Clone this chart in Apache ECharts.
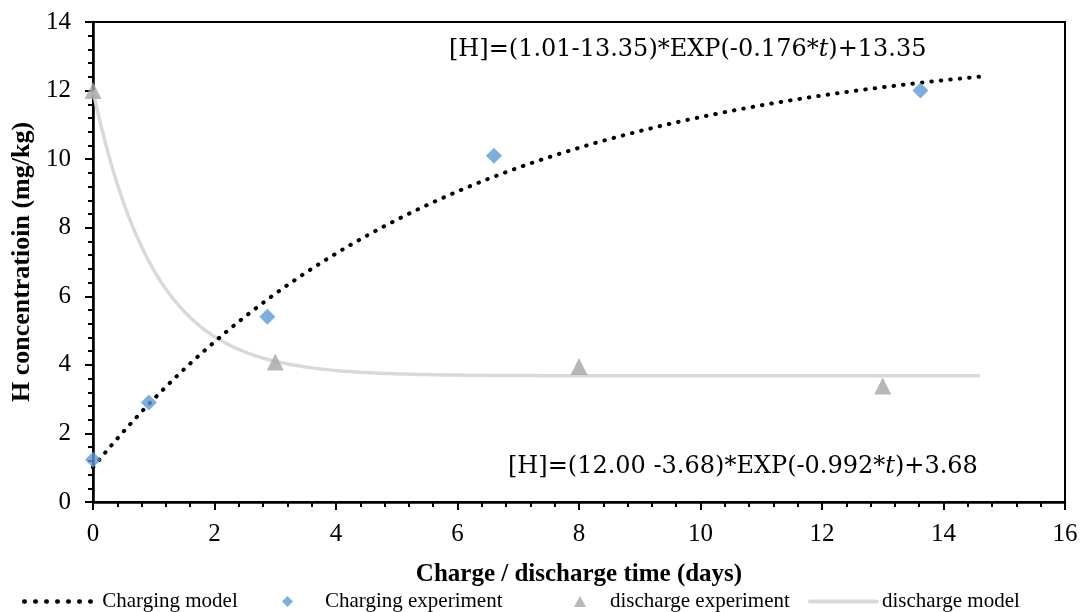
<!DOCTYPE html>
<html>
<head>
<meta charset="utf-8">
<script src="https://cdn.jsdelivr.net/npm/echarts@6/dist/echarts.min.js"></script>
<style>
  html, body { margin: 0; padding: 0; background: #fff; }
  #chart { width: 1084px; height: 612px; }
</style>
</head>
<body>
<div id="chart"></div>
<script>
// Measured hydrogen concentration (days, mg/kg)
const chargingDays = [0, 0.92, 2.87, 6.6, 13.62];
const chargingH    = [1.23, 2.9, 5.4, 10.1, 12.0];
const dischargeDays = [0, 3.0, 8.0, 13.0];
const dischargeH    = [12.0, 4.08, 3.95, 3.38];

// Fitted exponential models: [H] = (H0 - Hinf) * EXP(-k * t) + Hinf
const chargingModel  = { h0: 1.01, hInf: 13.35, k: 0.176 };
const dischargeModel = { h0: 12.00, hInf: 3.68, k: 0.992 };
const modelEndDay = 14.6;

const xTicks = { min: 0, max: 16, interval: 2 };
const yTicks = { min: 0, max: 14, interval: 2 };

function modelCurve(m) {
  const pts = [];
  for (let i = 0; i <= 292; i++) {
    const t = Math.min(i * 0.05, modelEndDay);
    pts.push([t, (m.h0 - m.hInf) * Math.exp(-m.k * t) + m.hInf]);
  }
  return pts;
}

function equationText(m, sep) {
  return '{a|[H]=(' + m.h0.toFixed(2) + sep + '-' + m.hInf.toFixed(2) +
         ')*EXP(-' + m.k.toFixed(3) + '*}{i|t}{a|)+' + m.hInf.toFixed(2) + '}';
}

const serif = 'Liberation Serif';
const eqFont = 'DejaVu Serif';
const chart = echarts.init(document.getElementById('chart'));

const legendText = { fontFamily: serif, fontSize: 21, color: '#000' };
const legendBase = { top: 591, padding: 0 };

const eqRich = {
  a: { fontFamily: eqFont, fontSize: 24, fill: '#000' },
  i: { fontFamily: eqFont, fontSize: 24, fontStyle: 'italic', fill: '#000' }
};

chart.setOption({
  animation: false,
  backgroundColor: '#fff',
  grid: {
    left: 93, right: 19, top: 22, bottom: 110,
    show: true, borderColor: '#000', borderWidth: 2
  },
  xAxis: {
    type: 'value',
    min: xTicks.min, max: xTicks.max, interval: xTicks.interval,
    name: 'Charge / discharge time (days)',
    nameLocation: 'middle', nameGap: 60,
    nameTextStyle: { fontFamily: serif, fontSize: 25, fontWeight: 'bold', color: '#000' },
    axisLine: { lineStyle: { color: '#000', width: 2.5 } },
    axisTick: { length: 8, lineStyle: { color: '#000', width: 2 } },
    minorTick: { show: true, splitNumber: 5, length: 5, lineStyle: { color: '#000', width: 2 } },
    splitLine: { show: false },
    axisLabel: { fontFamily: serif, fontSize: 25, color: '#000', margin: 20 }
  },
  yAxis: {
    type: 'value',
    min: yTicks.min, max: yTicks.max, interval: yTicks.interval,
    name: 'H concentratioin (mg/kg)',
    nameLocation: 'middle', nameGap: 55,
    nameTextStyle: { fontFamily: serif, fontSize: 26, fontWeight: 'bold', color: '#000' },
    axisLine: { lineStyle: { color: '#000', width: 2.5 } },
    axisTick: { length: 8, lineStyle: { color: '#000', width: 2 } },
    minorTick: { show: true, splitNumber: 5, length: 5, lineStyle: { color: '#000', width: 2 } },
    splitLine: { show: false },
    axisLabel: { fontFamily: serif, fontSize: 25, color: '#000', margin: 22 }
  },
  legend: [
    Object.assign({}, legendBase, {
      left: 22, itemWidth: 73, itemHeight: 12, textStyle: legendText,
      lineStyle: { width: 4.5, type: [0.5, 10.5], cap: 'round', color: '#000' },
      data: [{ name: 'Charging model', itemStyle: { opacity: 0 } }]
    }),
    Object.assign({}, legendBase, {
      left: 282, itemWidth: 11, itemHeight: 11,
      textStyle: Object.assign({ padding: [0, 0, 0, 27] }, legendText),
      data: [{ name: 'Charging experiment', icon: 'diamond' }]
    }),
    Object.assign({}, legendBase, {
      left: 574, itemWidth: 12, itemHeight: 11,
      textStyle: Object.assign({ padding: [0, 0, 0, 19] }, legendText),
      data: [{ name: 'discharge experiment', icon: 'triangle' }]
    }),
    Object.assign({}, legendBase, {
      left: 808, itemWidth: 67, itemHeight: 12, textStyle: legendText,
      lineStyle: { width: 4, color: '#d9d9d9', cap: 'round' },
      data: [{ name: 'discharge model', itemStyle: { opacity: 0 } }]
    })
  ],
  series: [
    {
      name: 'discharge model',
      type: 'line',
      data: modelCurve(dischargeModel),
      showSymbol: false, symbol: 'none',
      lineStyle: { color: '#d9d9d9', width: 3.5 },
      itemStyle: { color: '#d9d9d9' },
      z: 2
    },
    {
      name: 'Charging model',
      type: 'line',
      data: modelCurve(chargingModel),
      showSymbol: false, symbol: 'none',
      lineStyle: { color: '#000', width: 4, type: [0.5, 9], cap: 'round' },
      itemStyle: { color: '#000' },
      z: 3
    },
    {
      name: 'Charging experiment',
      type: 'scatter',
      data: chargingDays.map((d, i) => [d, chargingH[i]]),
      symbol: 'diamond', symbolSize: 16,
      itemStyle: { color: '#5b9bd5' },
      z: 4
    },
    {
      name: 'discharge experiment',
      type: 'scatter',
      data: dischargeDays.map((d, i) => [d, dischargeH[i]]),
      symbol: 'triangle', symbolSize: 17,
      itemStyle: { color: '#a5a5a5' },
      z: 4
    }
  ],
  graphic: [
    {
      type: 'text', left: 449, top: 38,
      style: { text: equationText(chargingModel, ''), rich: eqRich }
    },
    {
      type: 'text', left: 508, top: 455,
      style: { text: equationText(dischargeModel, ' '), rich: eqRich }
    }
  ]
});
</script>
</body>
</html>
